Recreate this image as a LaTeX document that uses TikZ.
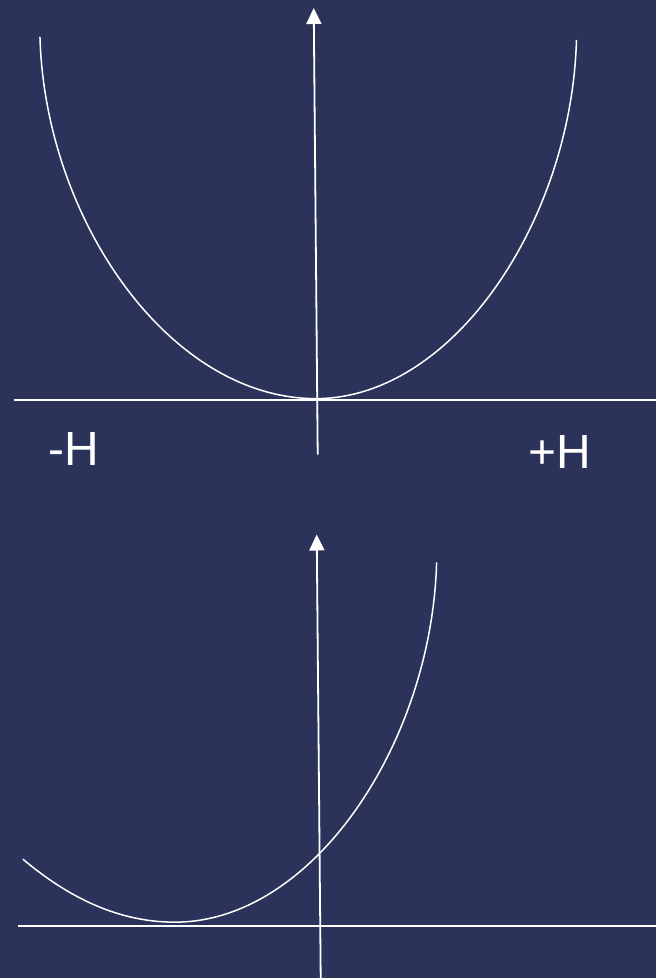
\documentclass[tikz,border=0pt]{standalone}
\usepackage{fontspec}
\newfontfamily\hfont{Liberation Sans}
\usetikzlibrary{arrows.meta, positioning}
\definecolor{slate}{HTML}{2C335A}

\begin{document}
\begin{tikzpicture}[
    x=1pt, y=-1pt,
    axis/.style={draw=white, line width=1.8pt},
    axarr/.style={axis, -{Triangle[length=16pt, width=15pt]}},
    curve/.style={draw=white, line width=1.5pt},
    lbl/.style={text=white, inner sep=0pt, font=\hfont\fontsize{48}{56}\selectfont}
]
    \fill[slate] (0,0) rectangle (657,979);

    % upper plot
    \coordinate (ytop1) at (314,8);
    \coordinate (ybot1) at (318,455);
    \coordinate (xl1) at (14,400);
    \coordinate (xr1) at (657,400);
    \coordinate (v1) at (316,399);
    \coordinate (le1) at (40,37);
    \coordinate (re1) at (577,40);
    \draw[axis] (xl1) -- (xr1);
    \draw[axarr] (ybot1) -- (ytop1);
    \draw[curve] (le1) .. controls (45,220) and (170,399) .. (v1)
                       .. controls (454,399) and (572,220) .. (re1);
    \node[lbl] (minus) at (74,449) {-H};
    \node[lbl] (plus) at (560,452) {+H};

    % lower plot
    \coordinate (ytop2) at (317,535);
    \coordinate (ybot2) at (321,979);
    \coordinate (xl2) at (18,927);
    \coordinate (xr2) at (657,927);
    \coordinate (v2) at (175,923);
    \coordinate (le2) at (23,860);
    \coordinate (re2) at (437,563);
    \draw[axis] (xl2) -- (xr2);
    \draw[axarr] (ybot2) -- (ytop2);
    \draw[curve] (le2) .. controls (74,903) and (124,923) .. (v2)
                       .. controls (313,923) and (432,744) .. (re2);
\end{tikzpicture}
\end{document}
